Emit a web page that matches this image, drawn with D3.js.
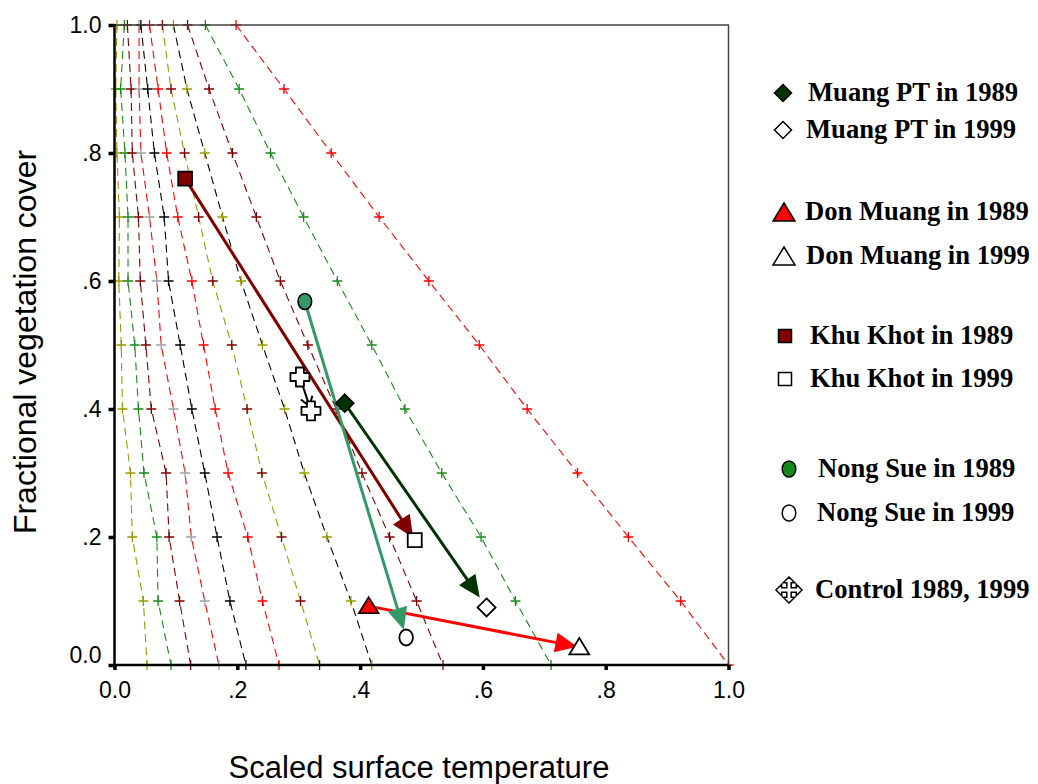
<!DOCTYPE html>
<html>
<head>
<meta charset="utf-8">
<script src="https://cdn.jsdelivr.net/npm/d3@7"></script>
<style>
  body { margin: 0; background: #fff; }
  svg { display: block; }
</style>
</head>
<body>
<svg id="chart" width="1038" height="784"></svg>
<script>
// ---- Data ---------------------------------------------------------------
// Fractional vegetation cover levels at which each isoline is sampled
const fvcLevels = [1.0, 0.9, 0.8, 0.7, 0.6, 0.5, 0.4, 0.3, 0.2, 0.1, 0.0];

// Scaled surface temperature of each isoline at those cover levels
const iso01 = [0.004, 0.002, 0.004, 0.008, 0.007, 0.011, 0.013, 0.026, 0.029, 0.047, 0.053];
const iso02 = [0.016, 0.010, 0.017, 0.022, 0.022, 0.033, 0.039, 0.048, 0.069, 0.071, 0.092];
const iso03 = [0.021, 0.027, 0.029, 0.039, 0.042, 0.051, 0.060, 0.084, 0.089, 0.106, 0.124];
const iso04 = [0.040, 0.040, 0.043, 0.057, 0.069, 0.076, 0.096, 0.115, 0.125, 0.147, 0.170];
const iso05 = [0.043, 0.054, 0.065, 0.081, 0.088, 0.107, 0.126, 0.147, 0.167, 0.188, 0.214];
const iso06 = [0.057, 0.071, 0.085, 0.103, 0.126, 0.145, 0.164, 0.185, 0.217, 0.241, 0.268];
const iso07 = [0.078, 0.092, 0.114, 0.137, 0.160, 0.191, 0.216, 0.240, 0.272, 0.303, 0.334];
const iso08 = [0.096, 0.118, 0.147, 0.176, 0.206, 0.241, 0.277, 0.309, 0.346, 0.385, 0.419];
const iso09 = [0.119, 0.154, 0.192, 0.231, 0.270, 0.315, 0.361, 0.403, 0.448, 0.492, 0.535];
const iso10 = [0.148, 0.203, 0.254, 0.308, 0.363, 0.419, 0.473, 0.533, 0.597, 0.653, 0.711];
const iso11 = [0.198, 0.276, 0.353, 0.431, 0.512, 0.594, 0.672, 0.754, 0.837, 0.922, 1.000];

// Study sites: 1989 and 1999 positions in the Ts / Fr space
const sites      = ["Muang PT", "Don Muang", "Khu Khot", "Nong Sue"];
const ts1989     = [0.375, 0.414, 0.115, 0.310];
const fr1989     = [0.409, 0.092, 0.760, 0.568];
const ts1999     = [0.606, 0.757, 0.489, 0.475];
const fr1999     = [0.090, 0.028, 0.195, 0.043];

// Control site (1989 then 1999)
const controlTs  = [0.302, 0.320];
const controlFr  = [0.450, 0.397];

// Axis tick values and labels
const xTicks      = [0, 0.2, 0.4, 0.6, 0.8, 1.0];
const xTickLabels = ["0.0", ".2", ".4", ".6", ".8", "1.0"];
const yTicks      = [0, 0.2, 0.4, 0.6, 0.8, 1.0];
const yTickLabels = ["0.0", ".2", ".4", ".6", ".8", "1.0"];

// Legend entries
const legendLabels = [
  "Muang PT in 1989", "Muang PT in 1999",
  "Don Muang in 1989", "Don Muang in 1999",
  "Khu Khot in 1989", "Khu Khot in 1999",
  "Nong Sue in 1989", "Nong Sue in 1999",
  "Control 1989, 1999"
];

// ---- Styles ---------------------------------------------------------------
const OLIVE = "#9a9a00", GREEN = "#1a8a1a", DARKRED = "#800000",
      RED = "#ff0000", BLACK = "#000000", GREY = "#a0a0a0";

const isolines = [iso01, iso02, iso03, iso04, iso05, iso06, iso07, iso08, iso09, iso10, iso11];
const lineColors   = [OLIVE, GREEN, DARKRED, RED,  BLACK, RED, OLIVE,   BLACK, DARKRED, GREEN, RED];
const markerColors = [OLIVE, GREEN, DARKRED, GREY, BLACK, RED, DARKRED, OLIVE, DARKRED, GREEN, RED];

const siteColors  = ["#003300", "#ff0000", "#800000", "#339966"];
const siteFill89  = ["#003300", "#ff0000", "#800000", "#339966"];
const legendFill89 = ["#003300", "#ff0000", "#800000", "#118a1a"];
const siteShapes  = ["diamond", "triangle", "square", "circle"];
const arrowGap    = [12, 2, 3, 8];

// ---- Layout ---------------------------------------------------------------
const svg = d3.select("#chart");
const x = d3.scaleLinear().domain([0, 1]).range([114.5, 728.5]);
const y = d3.scaleLinear().domain([0, 1]).range([665, 25]);

const SANS = "'Liberation Sans', Arial, sans-serif";
const SERIF = "'Liberation Serif', 'Times New Roman', serif";

// ---- Isolines -------------------------------------------------------------
const isoG = svg.append("g");
const line = d3.line().x(d => x(d[0])).y(d => y(d[1]));

isolines.forEach((vals, i) => {
  const pts = vals.map((v, k) => [v, fvcLevels[k]]);
  isoG.append("path")
    .attr("d", line(pts))
    .attr("fill", "none")
    .attr("stroke", lineColors[i])
    .attr("stroke-width", 1.1)
    .attr("stroke-dasharray", "8,5");
  isoG.selectAll(null)
    .data(pts)
    .join("path")
    .attr("transform", d => `translate(${x(d[0])},${y(d[1])})`)
    .attr("d", "M-5,0H5M0,-5V5")
    .attr("stroke", markerColors[i])
    .attr("stroke-width", 1.3)
    .attr("fill", "none");
});

// ---- Frame and axes -------------------------------------------------------
svg.append("path")
  .attr("d", `M${x(0)},${y(1)}H${x(1)}V${y(0)}`)
  .attr("fill", "none").attr("stroke", "#444").attr("stroke-width", 1.5);

const yAxis = svg.append("g")
  .attr("transform", `translate(${x(0)},0)`)
  .call(d3.axisLeft(y).tickValues(yTicks).tickSize(6).tickPadding(7)
        .tickFormat((d, i) => yTickLabels[i]));
const xAxis = svg.append("g")
  .attr("transform", `translate(0,${y(0)})`)
  .call(d3.axisBottom(x).tickValues(xTicks).tickSize(5).tickPadding(12)
        .tickFormat((d, i) => xTickLabels[i]));

[xAxis, yAxis].forEach(a => {
  a.select(".domain").remove();
  a.selectAll(".tick line").attr("stroke", "#000").attr("stroke-width", 3.5);
  a.selectAll(".tick text").attr("font-family", SANS).attr("font-size", 23).attr("fill", "#000");
});
// lowest y label sits a little above its tick
yAxis.selectAll(".tick").filter(d => d === 0).select("text").attr("y", -10);

svg.append("line")
  .attr("x1", x(0)).attr("x2", x(0)).attr("y1", y(1) - 1).attr("y2", y(0) + 1)
  .attr("stroke", "#000").attr("stroke-width", 2.5);
svg.append("line")
  .attr("x1", x(0) - 1).attr("x2", x(1)).attr("y1", y(0)).attr("y2", y(0))
  .attr("stroke", "#000").attr("stroke-width", 2.5);

// Axis titles
svg.append("text")
  .attr("x", 419).attr("y", 778)
  .attr("text-anchor", "middle")
  .attr("font-family", SANS).attr("font-size", 31)
  .text("Scaled surface temperature");
svg.append("text")
  .attr("transform", "translate(36,342) rotate(-90)")
  .attr("text-anchor", "middle")
  .attr("font-family", SANS).attr("font-size", 32)
  .text("Fractional vegetation cover");

// ---- Symbols --------------------------------------------------------------
function shapePath(kind, s) {
  switch (kind) {
    case "diamond":  return `M0,${-s}L${s},0L0,${s}L${-s},0Z`;
    case "triangle": return `M0,${-s}L${s * 1.1},${s * 0.8}L${-s * 1.1},${s * 0.8}Z`;
    case "square":   return `M${-s},${-s}H${s}V${s}H${-s}Z`;
    case "circle":   return null;
  }
}
function drawSymbol(g, kind, cx, cy, s, fill, stroke, sw) {
  if (kind === "circle") {
    g.append("ellipse").attr("cx", cx).attr("cy", cy)
      .attr("rx", s * 0.85).attr("ry", s)
      .attr("fill", fill).attr("stroke", stroke).attr("stroke-width", sw);
  } else {
    g.append("path").attr("transform", `translate(${cx},${cy})`)
      .attr("d", shapePath(kind, s))
      .attr("fill", fill).attr("stroke", stroke).attr("stroke-width", sw)
      .attr("stroke-linejoin", "miter");
  }
}
// Fat plus outline used for the control site in the plot
function controlCross(g, cx, cy) {
  const a = 4, L = 9.5;
  g.append("path").attr("transform", `translate(${cx},${cy})`)
    .attr("d", `M${-a},${-L}H${a}V${-a}H${L}V${a}H${a}V${L}H${-a}V${a}H${-L}V${-a}H${-a}Z`)
    .attr("fill", "#fff").attr("stroke", "#000").attr("stroke-width", 1.8)
    .attr("stroke-linejoin", "round");
}
// Four-way arrow used for the control site in the legend
function controlArrows(g, cx, cy, k) {
  const p = [[0,-9],[4,-5],[1.5,-5],[1.5,-1.5],[5,-1.5],[5,-4],[9,0],[5,4],[5,1.5],[1.5,1.5],
             [1.5,5],[4,5],[0,9],[-4,5],[-1.5,5],[-1.5,1.5],[-5,1.5],[-5,4],[-9,0],[-5,-4],
             [-5,-1.5],[-1.5,-1.5],[-1.5,-5],[-4,-5]];
  g.append("path").attr("transform", `translate(${cx},${cy}) scale(${k})`)
    .attr("d", "M" + p.map(q => q.join(",")).join("L") + "Z")
    .attr("fill", "#fff").attr("stroke", "#000").attr("stroke-width", 1.5 / k)
    .attr("stroke-linejoin", "miter");
}

// ---- Site change arrows ---------------------------------------------------
const siteG = svg.append("g");
function arrow(g, x0, y0, x1, y1, gap, color, width, headLen, headHalf, open) {
  const dx = x1 - x0, dy = y1 - y0, len = Math.hypot(dx, dy);
  const ux = dx / len, uy = dy / len;
  const tx = x1 - ux * gap, ty = y1 - uy * gap;
  const bx = tx - ux * headLen, by = ty - uy * headLen;
  const px = -uy, py = ux;
  if (open) {
    g.append("line").attr("x1", x0).attr("y1", y0).attr("x2", tx).attr("y2", ty)
      .attr("stroke", color).attr("stroke-width", width);
    g.append("path")
      .attr("d", `M${bx + px * headHalf},${by + py * headHalf}L${tx},${ty}L${bx - px * headHalf},${by - py * headHalf}`)
      .attr("fill", "none").attr("stroke", color).attr("stroke-width", width);
  } else {
    g.append("line").attr("x1", x0).attr("y1", y0).attr("x2", bx + ux * 2).attr("y2", by + uy * 2)
      .attr("stroke", color).attr("stroke-width", width);
    g.append("path")
      .attr("d", `M${tx},${ty}L${bx + px * headHalf},${by + py * headHalf}L${bx - px * headHalf},${by - py * headHalf}Z`)
      .attr("fill", color);
  }
}

sites.forEach((s, i) => {
  arrow(siteG, x(ts1989[i]), y(fr1989[i]), x(ts1999[i]), y(fr1999[i]),
        arrowGap[i], siteColors[i], 3, 22, 10, false);
});
arrow(siteG, x(controlTs[0]), y(controlFr[0]), x(controlTs[1]), y(controlFr[1]),
      5, "#000", 2, 9, 6, true);

// Markers on top of the arrows
sites.forEach((s, i) => {
  const size = siteShapes[i] === "square" ? 7 : siteShapes[i] === "circle" ? 8 : 9;
  drawSymbol(siteG, siteShapes[i], x(ts1989[i]), y(fr1989[i]), size, siteFill89[i], "#000", 1.6);
  drawSymbol(siteG, siteShapes[i], x(ts1999[i]), y(fr1999[i]), size, "#fff", "#000", 1.8);
});
controlCross(siteG, x(controlTs[0]), y(controlFr[0]));
controlCross(siteG, x(controlTs[1]), y(controlFr[1]));

// ---- Legend ---------------------------------------------------------------
const legRowY  = [93, 130, 212, 256, 336, 379, 469, 513, 590];
const legTextX = [808, 806, 805, 806, 810, 810, 818, 817, 815];
const legSymX  = [783, 783, 784, 784, 785, 785, 789, 789, 789];
const legG = svg.append("g");

legendLabels.forEach((lab, j) => {
  const cy = legRowY[j];
  if (j < 8) {
    const i = Math.floor(j / 2), is89 = j % 2 === 0;
    const kind = siteShapes[i];
    const size = kind === "square" ? 6.5 : kind === "circle" ? 8 : kind === "triangle" ? 10 : 8.5;
    const cyy = kind === "triangle" ? cy + 1 : cy;
    drawSymbol(legG, kind, legSymX[j], cyy, size, is89 ? legendFill89[i] : "#fff", "#000", 1.5);
  } else {
    controlArrows(legG, legSymX[j], cy, 1.45);
  }
  legG.append("text")
    .attr("x", legTextX[j]).attr("y", cy + 8)
    .attr("font-family", SERIF).attr("font-weight", "bold").attr("font-size", 26.6)
    .attr("fill", "#000")
    .text(lab);
});
</script>
</body>
</html>
